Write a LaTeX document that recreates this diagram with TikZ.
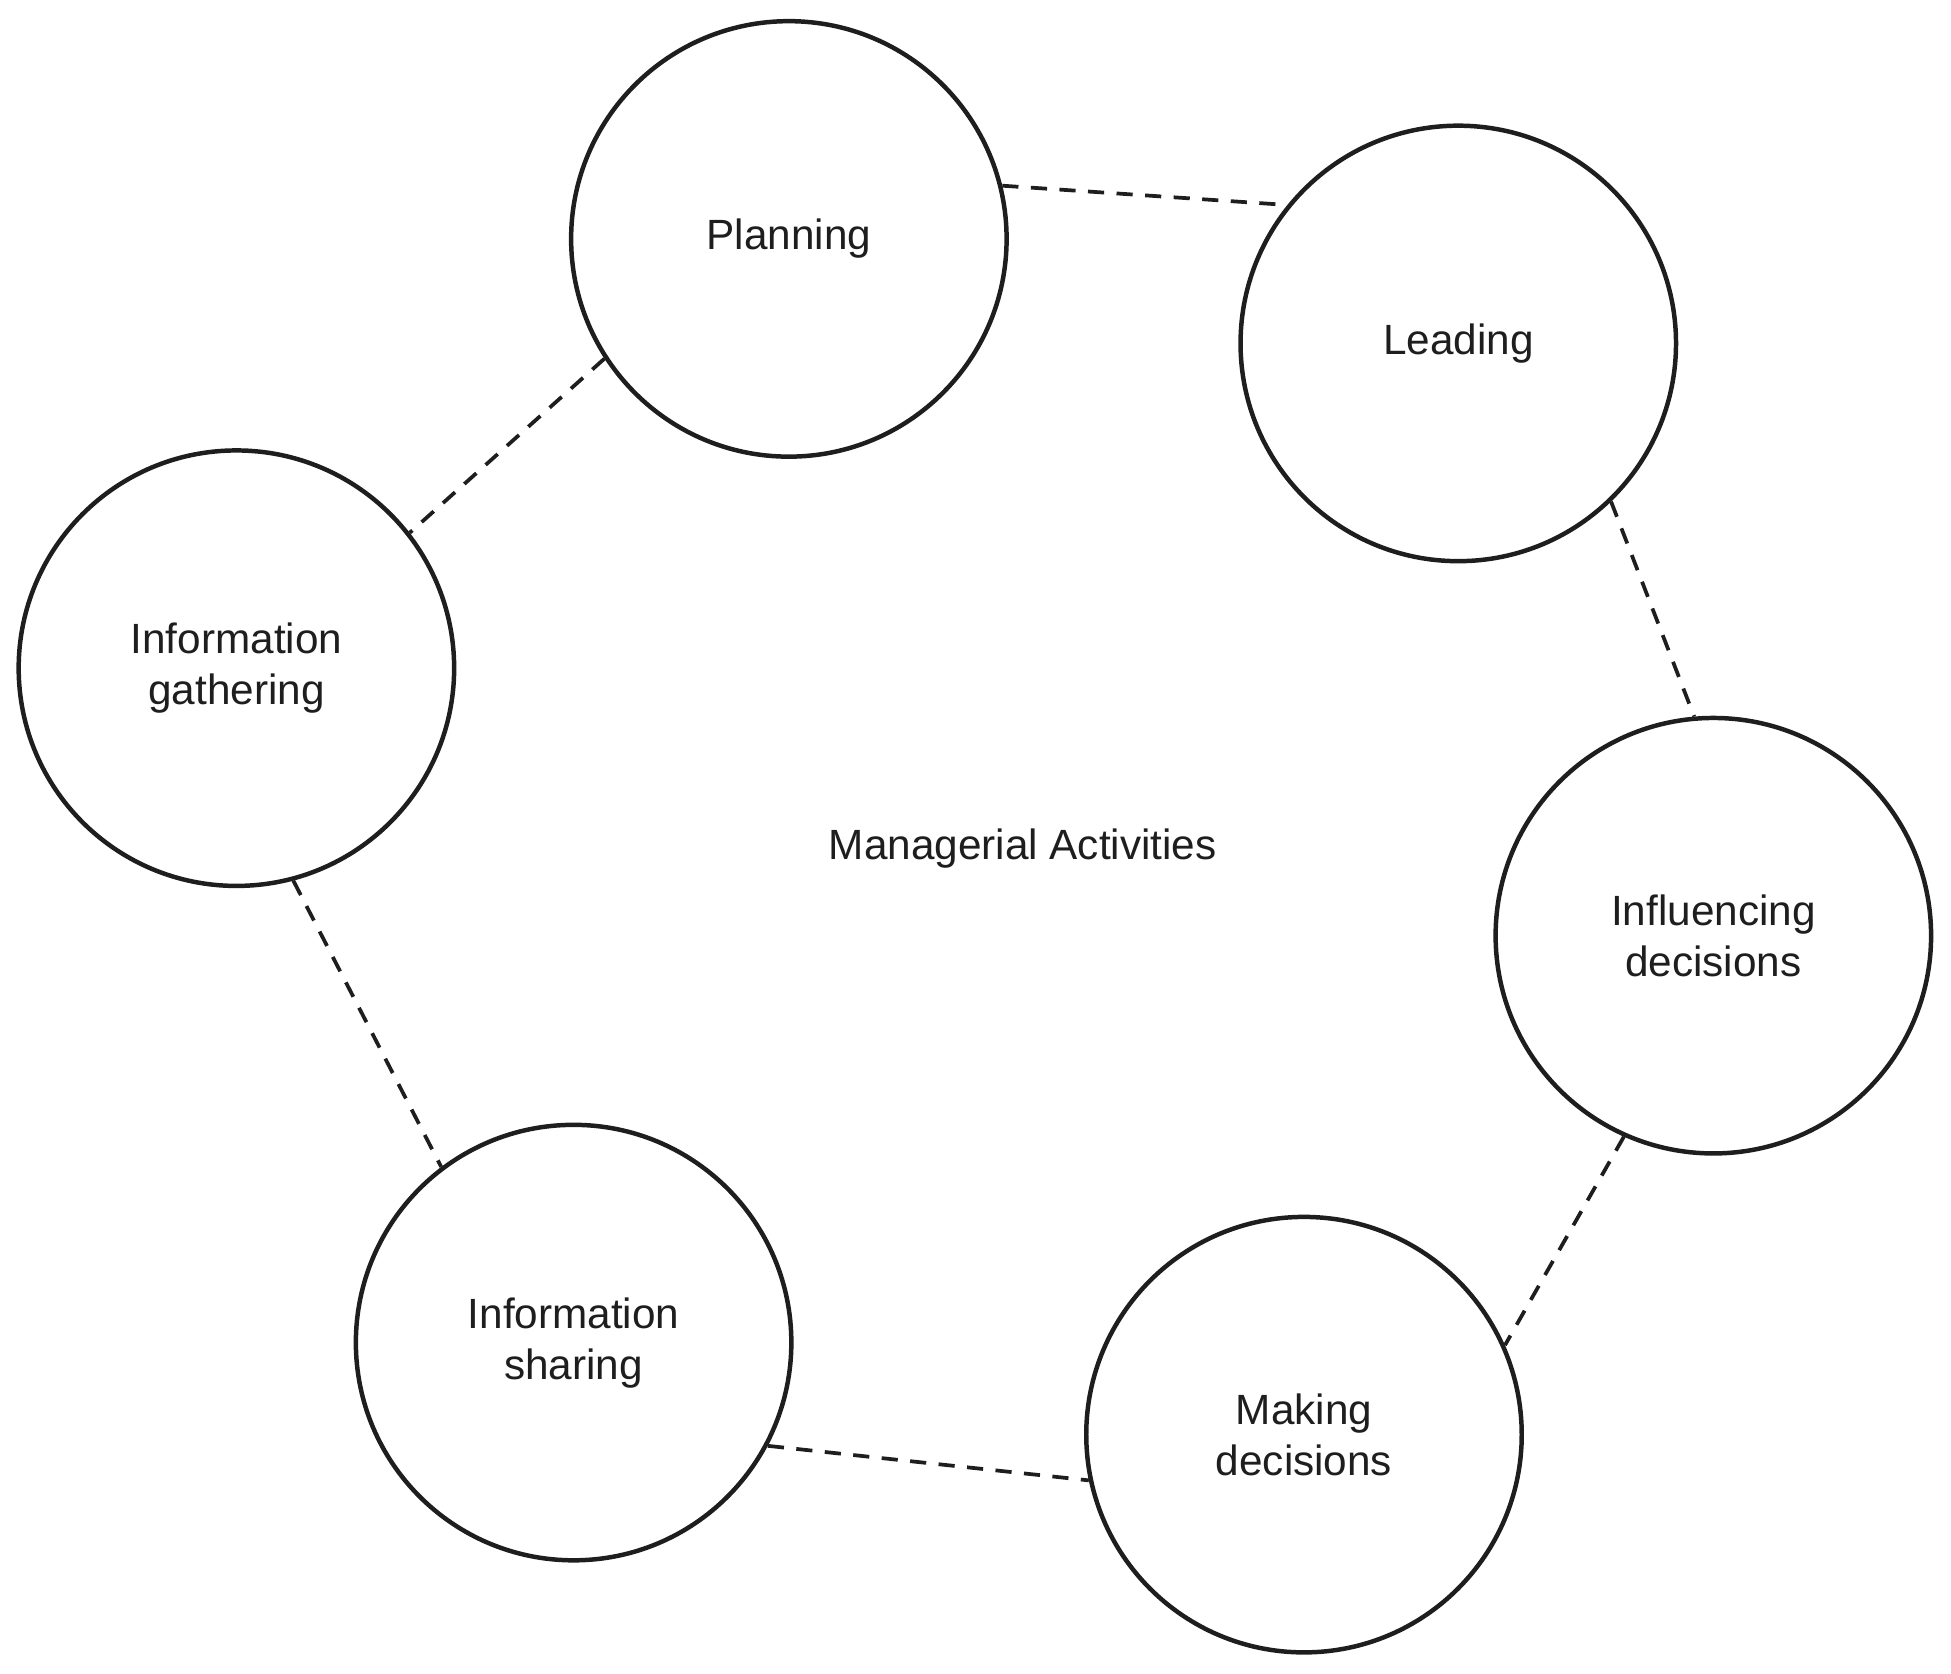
\documentclass[tikz,border=0pt]{standalone}
\usepackage{fontspec}
\setmainfont{Liberation Sans}
\definecolor{ink}{HTML}{1E1E1E}
\begin{document}
\begin{tikzpicture}[x=1pt,y=-1pt,
  activity/.style={circle,draw=ink,line width=3.6pt,minimum size=350pt,inner sep=0pt,
    text=ink,align=center,font=\fontsize{34}{41}\selectfont},
  link/.style={draw=ink,line width=3pt,dash pattern=on 13pt off 10pt},
  title/.style={text=ink,font=\fontsize{34}{41}\selectfont}]
\useasboundingbox (0,0) rectangle (1568,1345);
\node[activity] (plan) at (634,192) {Planning};
\node[activity] (lead) at (1172,276) {Leading};
\node[activity] (gather) at (190,537) {Information\\gathering};
\node[activity] (infl) at (1377,752) {Influencing\\decisions};
\node[activity] (share) at (461,1079) {Information\\sharing};
\node[activity] (make) at (1048,1153) {Making\\decisions};
\node[title] (mid) at (822,682) {Managerial Activities};
\draw[link] (plan.14.6) -- (lead.141.5);
\draw[link] (plan.213.7) -- (gather.38.3);
\draw[link] (lead.314) -- (infl.95.5);
\draw[link] (gather.285) -- (share.127.6);
\draw[link] (infl.246.7) -- (make.24);
\draw[link] (share.332.5) -- (make.192.6);
\end{tikzpicture}
\end{document}
